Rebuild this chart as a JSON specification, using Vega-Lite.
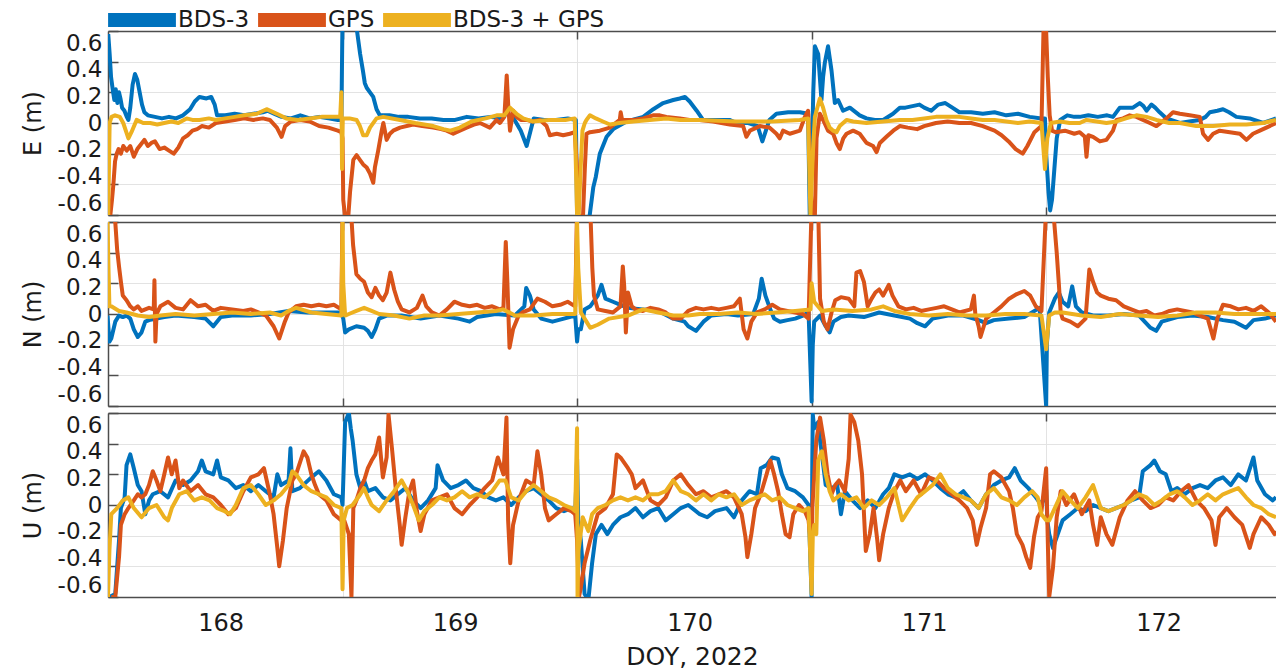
{
"$schema":"https://vega.github.io/schema/vega-lite/v6.json",
"padding":{"left":21,"top":-14,"right":0,"bottom":0},
"config":{"font":"DejaVu Sans","view":{"stroke":null},"concat":{"spacing":5},
 "axis":{"labelFont":"DejaVu Sans","titleFont":"DejaVu Sans","labelColor":"#1a1a1a","titleColor":"#1a1a1a","titleFontWeight":"normal","domainColor":"#4d4d4d","domainWidth":1.5,"gridColor":"#e3e3e3","gridWidth":1,"tickColor":"#4d4d4d","tickWidth":1.5},
 "legend":{"labelFont":"DejaVu Sans"}},
"resolve":{"scale":{"color":"shared"},"legend":{"color":"shared"}},
"datasets":{
"EB":[{"t":167.521,"v":0.58},{"t":167.527,"v":0.45},{"t":167.533,"v":0.3},{"t":167.54,"v":0.22},{"t":167.547,"v":0.15},{"t":167.553,"v":0.22},{"t":167.56,"v":0.13},{"t":167.567,"v":0.2},{"t":167.573,"v":0.16},{"t":167.58,"v":0.1},{"t":167.59,"v":0.08},{"t":167.6,"v":0.04},{"t":167.607,"v":0.02},{"t":167.615,"v":0.1},{"t":167.625,"v":0.25},{"t":167.635,"v":0.32},{"t":167.645,"v":0.28},{"t":167.655,"v":0.2},{"t":167.665,"v":0.12},{"t":167.675,"v":0.07},{"t":167.69,"v":0.05},{"t":167.72,"v":0.04},{"t":167.75,"v":0.03},{"t":167.78,"v":0.04},{"t":167.81,"v":0.03},{"t":167.84,"v":0.05},{"t":167.87,"v":0.09},{"t":167.89,"v":0.14},{"t":167.91,"v":0.17},{"t":167.94,"v":0.16},{"t":167.96,"v":0.17},{"t":167.975,"v":0.12},{"t":167.985,"v":0.05},{"t":168.02,"v":0.05},{"t":168.06,"v":0.06},{"t":168.1,"v":0.05},{"t":168.14,"v":0.06},{"t":168.18,"v":0.07},{"t":168.2,"v":0.08},{"t":168.23,"v":0.06},{"t":168.26,"v":0.04},{"t":168.3,"v":0.03},{"t":168.34,"v":0.05},{"t":168.38,"v":0.03},{"t":168.42,"v":0.04},{"t":168.46,"v":0.03},{"t":168.5,"v":0.02},{"t":168.515,"v":0.02},{"t":168.52,"v":0.7},{"t":168.54,"v":0.66},{"t":168.56,"v":0.7},{"t":168.58,"v":0.62},{"t":168.595,"v":0.45},{"t":168.607,"v":0.34},{"t":168.615,"v":0.26},{"t":168.623,"v":0.23},{"t":168.637,"v":0.2},{"t":168.651,"v":0.17},{"t":168.665,"v":0.09},{"t":168.679,"v":0.05},{"t":168.72,"v":0.05},{"t":168.76,"v":0.04},{"t":168.8,"v":0.04},{"t":168.85,"v":0.03},{"t":168.9,"v":0.03},{"t":168.95,"v":0.02},{"t":169.0,"v":0.02},{"t":169.05,"v":0.04},{"t":169.1,"v":0.03},{"t":169.15,"v":0.04},{"t":169.19,"v":0.03},{"t":169.22,"v":0.06},{"t":169.25,"v":0.03},{"t":169.28,"v":-0.05},{"t":169.305,"v":-0.15},{"t":169.32,"v":-0.06},{"t":169.335,"v":0.03},{"t":169.38,"v":0.02},{"t":169.43,"v":0.02},{"t":169.48,"v":0.03},{"t":169.515,"v":0.02},{"t":169.52,"v":-0.6},{"t":169.555,"v":-0.7},{"t":169.574,"v":-0.6},{"t":169.589,"v":-0.42},{"t":169.6,"v":-0.35},{"t":169.617,"v":-0.2},{"t":169.646,"v":-0.09},{"t":169.674,"v":-0.04},{"t":169.731,"v":0.01},{"t":169.802,"v":0.04},{"t":169.845,"v":0.09},{"t":169.887,"v":0.13},{"t":169.93,"v":0.15},{"t":169.958,"v":0.16},{"t":169.98,"v":0.17},{"t":170.0,"v":0.14},{"t":170.03,"v":0.08},{"t":170.057,"v":0.02},{"t":170.1,"v":0.02},{"t":170.17,"v":0.02},{"t":170.2,"v":0.0},{"t":170.25,"v":0.0},{"t":170.29,"v":-0.02},{"t":170.31,"v":-0.12},{"t":170.325,"v":-0.05},{"t":170.34,"v":0.02},{"t":170.37,"v":0.06},{"t":170.42,"v":0.07},{"t":170.47,"v":0.07},{"t":170.505,"v":0.06},{"t":170.512,"v":-0.6},{"t":170.52,"v":-0.3},{"t":170.527,"v":0.2},{"t":170.534,"v":0.5},{"t":170.548,"v":0.45},{"t":170.555,"v":0.3},{"t":170.562,"v":0.15},{"t":170.569,"v":0.3},{"t":170.576,"v":0.39},{"t":170.59,"v":0.5},{"t":170.605,"v":0.34},{"t":170.619,"v":0.13},{"t":170.633,"v":0.15},{"t":170.654,"v":0.08},{"t":170.683,"v":0.1},{"t":170.725,"v":0.05},{"t":170.754,"v":0.03},{"t":170.79,"v":0.02},{"t":170.825,"v":0.02},{"t":170.867,"v":0.06},{"t":170.896,"v":0.1},{"t":170.92,"v":0.1},{"t":170.95,"v":0.11},{"t":170.98,"v":0.12},{"t":171.0,"v":0.1},{"t":171.03,"v":0.08},{"t":171.06,"v":0.12},{"t":171.09,"v":0.13},{"t":171.12,"v":0.1},{"t":171.15,"v":0.07},{"t":171.2,"v":0.07},{"t":171.25,"v":0.06},{"t":171.3,"v":0.07},{"t":171.35,"v":0.05},{"t":171.4,"v":0.06},{"t":171.45,"v":0.04},{"t":171.5,"v":0.03},{"t":171.515,"v":0.03},{"t":171.52,"v":-0.2},{"t":171.53,"v":-0.45},{"t":171.537,"v":-0.57},{"t":171.545,"v":-0.5},{"t":171.555,"v":-0.3},{"t":171.565,"v":-0.1},{"t":171.58,"v":0.02},{"t":171.61,"v":0.05},{"t":171.64,"v":0.04},{"t":171.663,"v":0.04},{"t":171.7,"v":0.05},{"t":171.74,"v":0.04},{"t":171.78,"v":0.05},{"t":171.805,"v":0.04},{"t":171.834,"v":0.1},{"t":171.86,"v":0.1},{"t":171.89,"v":0.1},{"t":171.919,"v":0.13},{"t":171.935,"v":0.11},{"t":171.948,"v":0.08},{"t":171.969,"v":0.12},{"t":171.985,"v":0.1},{"t":172.004,"v":0.07},{"t":172.033,"v":0.03},{"t":172.09,"v":0.0},{"t":172.13,"v":0.01},{"t":172.175,"v":0.02},{"t":172.2,"v":0.04},{"t":172.218,"v":0.07},{"t":172.25,"v":0.08},{"t":172.274,"v":0.09},{"t":172.3,"v":0.07},{"t":172.331,"v":0.04},{"t":172.388,"v":0.03},{"t":172.445,"v":0.0},{"t":172.5,"v":0.03}],
"EG":[{"t":167.521,"v":-0.6},{"t":167.53,"v":-0.6},{"t":167.537,"v":-0.5},{"t":167.543,"v":-0.4},{"t":167.55,"v":-0.25},{"t":167.557,"v":-0.2},{"t":167.565,"v":-0.17},{"t":167.575,"v":-0.2},{"t":167.585,"v":-0.15},{"t":167.6,"v":-0.18},{"t":167.615,"v":-0.15},{"t":167.63,"v":-0.22},{"t":167.645,"v":-0.17},{"t":167.66,"v":-0.14},{"t":167.675,"v":-0.11},{"t":167.69,"v":-0.15},{"t":167.705,"v":-0.13},{"t":167.72,"v":-0.12},{"t":167.74,"v":-0.17},{"t":167.76,"v":-0.16},{"t":167.78,"v":-0.18},{"t":167.8,"v":-0.2},{"t":167.82,"v":-0.16},{"t":167.84,"v":-0.1},{"t":167.86,"v":-0.08},{"t":167.88,"v":-0.05},{"t":167.9,"v":-0.04},{"t":167.92,"v":-0.02},{"t":167.95,"v":-0.03},{"t":167.98,"v":0.0},{"t":168.02,"v":0.01},{"t":168.06,"v":0.02},{"t":168.1,"v":0.03},{"t":168.14,"v":0.02},{"t":168.18,"v":0.03},{"t":168.21,"v":0.02},{"t":168.24,"v":-0.03},{"t":168.26,"v":-0.09},{"t":168.275,"v":-0.02},{"t":168.3,"v":0.01},{"t":168.34,"v":0.02},{"t":168.38,"v":0.01},{"t":168.42,"v":-0.02},{"t":168.46,"v":-0.03},{"t":168.5,"v":-0.05},{"t":168.515,"v":-0.06},{"t":168.52,"v":-0.1},{"t":168.523,"v":-0.5},{"t":168.53,"v":-0.6},{"t":168.537,"v":-0.7},{"t":168.545,"v":-0.6},{"t":168.552,"v":-0.45},{"t":168.566,"v":-0.24},{"t":168.58,"v":-0.21},{"t":168.594,"v":-0.24},{"t":168.608,"v":-0.27},{"t":168.623,"v":-0.29},{"t":168.637,"v":-0.33},{"t":168.651,"v":-0.39},{"t":168.658,"v":-0.29},{"t":168.672,"v":-0.18},{"t":168.687,"v":-0.05},{"t":168.694,"v":0.0},{"t":168.708,"v":-0.11},{"t":168.722,"v":-0.07},{"t":168.736,"v":-0.05},{"t":168.765,"v":-0.03},{"t":168.821,"v":-0.01},{"t":168.86,"v":-0.02},{"t":168.907,"v":-0.03},{"t":168.94,"v":-0.04},{"t":168.964,"v":-0.05},{"t":168.992,"v":-0.07},{"t":169.02,"v":-0.05},{"t":169.049,"v":-0.03},{"t":169.08,"v":-0.01},{"t":169.106,"v":0.0},{"t":169.148,"v":-0.03},{"t":169.177,"v":0.02},{"t":169.191,"v":0.0},{"t":169.21,"v":0.04},{"t":169.22,"v":0.31},{"t":169.227,"v":0.1},{"t":169.234,"v":-0.05},{"t":169.248,"v":0.08},{"t":169.262,"v":0.04},{"t":169.28,"v":0.02},{"t":169.305,"v":0.02},{"t":169.33,"v":0.01},{"t":169.362,"v":0.02},{"t":169.39,"v":-0.02},{"t":169.404,"v":-0.08},{"t":169.433,"v":-0.07},{"t":169.461,"v":-0.08},{"t":169.489,"v":-0.07},{"t":169.51,"v":-0.06},{"t":169.52,"v":-0.3},{"t":169.525,"v":-0.6},{"t":169.545,"v":-0.62},{"t":169.553,"v":-0.3},{"t":169.56,"v":-0.07},{"t":169.575,"v":-0.06},{"t":169.617,"v":-0.05},{"t":169.66,"v":-0.03},{"t":169.702,"v":0.02},{"t":169.706,"v":0.07},{"t":169.712,"v":0.02},{"t":169.759,"v":0.02},{"t":169.802,"v":0.03},{"t":169.844,"v":0.05},{"t":169.873,"v":0.05},{"t":169.901,"v":0.04},{"t":169.958,"v":0.03},{"t":170.0,"v":0.02},{"t":170.043,"v":0.02},{"t":170.1,"v":0.01},{"t":170.171,"v":-0.01},{"t":170.228,"v":-0.02},{"t":170.242,"v":-0.09},{"t":170.257,"v":-0.05},{"t":170.299,"v":-0.02},{"t":170.34,"v":-0.03},{"t":170.37,"v":-0.07},{"t":170.384,"v":-0.1},{"t":170.398,"v":-0.05},{"t":170.427,"v":-0.07},{"t":170.47,"v":-0.05},{"t":170.491,"v":0.04},{"t":170.505,"v":0.08},{"t":170.512,"v":-0.2},{"t":170.52,"v":-0.6},{"t":170.534,"v":-0.6},{"t":170.541,"v":-0.1},{"t":170.555,"v":0.06},{"t":170.569,"v":0.02},{"t":170.59,"v":-0.05},{"t":170.612,"v":-0.07},{"t":170.626,"v":-0.13},{"t":170.64,"v":-0.17},{"t":170.655,"v":-0.1},{"t":170.669,"v":-0.07},{"t":170.697,"v":-0.05},{"t":170.725,"v":-0.07},{"t":170.754,"v":-0.13},{"t":170.782,"v":-0.15},{"t":170.797,"v":-0.19},{"t":170.811,"v":-0.13},{"t":170.839,"v":-0.09},{"t":170.868,"v":-0.05},{"t":170.896,"v":-0.02},{"t":170.93,"v":-0.03},{"t":170.97,"v":-0.04},{"t":171.0,"v":-0.02},{"t":171.05,"v":0.0},{"t":171.1,"v":0.01},{"t":171.15,"v":0.0},{"t":171.2,"v":0.0},{"t":171.25,"v":-0.02},{"t":171.3,"v":-0.05},{"t":171.33,"v":-0.08},{"t":171.36,"v":-0.12},{"t":171.39,"v":-0.17},{"t":171.42,"v":-0.2},{"t":171.44,"v":-0.15},{"t":171.47,"v":-0.06},{"t":171.5,"v":-0.02},{"t":171.51,"v":0.7},{"t":171.52,"v":0.6},{"t":171.527,"v":0.3},{"t":171.535,"v":0.05},{"t":171.545,"v":-0.05},{"t":171.56,"v":-0.06},{"t":171.6,"v":-0.05},{"t":171.64,"v":-0.07},{"t":171.663,"v":-0.06},{"t":171.685,"v":-0.09},{"t":171.692,"v":-0.22},{"t":171.7,"v":-0.08},{"t":171.72,"v":-0.09},{"t":171.749,"v":-0.12},{"t":171.777,"v":-0.11},{"t":171.805,"v":-0.05},{"t":171.82,"v":0.02},{"t":171.848,"v":0.03},{"t":171.876,"v":0.05},{"t":171.905,"v":0.04},{"t":171.933,"v":0.02},{"t":171.962,"v":0.0},{"t":171.99,"v":-0.02},{"t":172.033,"v":0.03},{"t":172.061,"v":0.07},{"t":172.09,"v":0.06},{"t":172.132,"v":0.05},{"t":172.175,"v":0.04},{"t":172.189,"v":-0.07},{"t":172.21,"v":-0.11},{"t":172.232,"v":-0.07},{"t":172.26,"v":-0.05},{"t":172.303,"v":-0.06},{"t":172.346,"v":-0.07},{"t":172.374,"v":-0.11},{"t":172.402,"v":-0.07},{"t":172.431,"v":-0.05},{"t":172.459,"v":-0.03},{"t":172.5,"v":0.0}],
"EC":[{"t":167.521,"v":-0.6},{"t":167.524,"v":-0.3},{"t":167.527,"v":0.0},{"t":167.535,"v":0.04},{"t":167.55,"v":0.05},{"t":167.57,"v":0.04},{"t":167.585,"v":0.0},{"t":167.598,"v":-0.06},{"t":167.607,"v":-0.1},{"t":167.62,"v":-0.06},{"t":167.642,"v":0.02},{"t":167.67,"v":0.0},{"t":167.7,"v":0.0},{"t":167.73,"v":-0.01},{"t":167.76,"v":0.0},{"t":167.79,"v":0.01},{"t":167.82,"v":0.0},{"t":167.855,"v":0.03},{"t":167.88,"v":0.02},{"t":167.91,"v":0.02},{"t":167.95,"v":0.03},{"t":167.98,"v":0.02},{"t":168.02,"v":0.03},{"t":168.06,"v":0.04},{"t":168.1,"v":0.05},{"t":168.154,"v":0.06},{"t":168.196,"v":0.09},{"t":168.24,"v":0.06},{"t":168.28,"v":0.03},{"t":168.33,"v":0.02},{"t":168.38,"v":0.03},{"t":168.43,"v":0.04},{"t":168.48,"v":0.04},{"t":168.51,"v":0.04},{"t":168.515,"v":0.2},{"t":168.518,"v":-0.3},{"t":168.521,"v":0.03},{"t":168.55,"v":0.03},{"t":168.58,"v":0.02},{"t":168.594,"v":-0.02},{"t":168.608,"v":-0.08},{"t":168.623,"v":-0.08},{"t":168.637,"v":-0.03},{"t":168.665,"v":0.03},{"t":168.694,"v":0.04},{"t":168.765,"v":0.02},{"t":168.83,"v":0.0},{"t":168.907,"v":-0.02},{"t":168.95,"v":-0.04},{"t":168.98,"v":-0.05},{"t":169.02,"v":-0.03},{"t":169.07,"v":0.01},{"t":169.13,"v":0.03},{"t":169.177,"v":0.05},{"t":169.21,"v":0.05},{"t":169.234,"v":0.1},{"t":169.262,"v":0.06},{"t":169.29,"v":0.03},{"t":169.33,"v":0.01},{"t":169.4,"v":0.02},{"t":169.47,"v":0.02},{"t":169.51,"v":0.03},{"t":169.52,"v":-0.6},{"t":169.527,"v":-0.6},{"t":169.535,"v":-0.3},{"t":169.543,"v":-0.05},{"t":169.553,"v":0.0},{"t":169.56,"v":0.02},{"t":169.575,"v":0.05},{"t":169.6,"v":0.03},{"t":169.63,"v":0.01},{"t":169.66,"v":-0.01},{"t":169.7,"v":0.0},{"t":169.76,"v":0.01},{"t":169.83,"v":0.02},{"t":169.9,"v":0.03},{"t":169.96,"v":0.02},{"t":170.04,"v":0.02},{"t":170.2,"v":0.01},{"t":170.35,"v":0.01},{"t":170.47,"v":0.02},{"t":170.505,"v":0.03},{"t":170.515,"v":-0.6},{"t":170.525,"v":-0.2},{"t":170.534,"v":0.04},{"t":170.541,"v":0.08},{"t":170.555,"v":0.16},{"t":170.569,"v":0.1},{"t":170.583,"v":0.02},{"t":170.597,"v":-0.03},{"t":170.612,"v":-0.05},{"t":170.626,"v":-0.06},{"t":170.64,"v":-0.02},{"t":170.669,"v":0.02},{"t":170.697,"v":0.01},{"t":170.754,"v":0.0},{"t":170.825,"v":0.01},{"t":170.896,"v":0.02},{"t":170.95,"v":0.02},{"t":171.0,"v":0.03},{"t":171.05,"v":0.04},{"t":171.1,"v":0.04},{"t":171.15,"v":0.04},{"t":171.2,"v":0.03},{"t":171.25,"v":0.02},{"t":171.3,"v":0.02},{"t":171.35,"v":0.01},{"t":171.4,"v":0.0},{"t":171.45,"v":0.01},{"t":171.5,"v":0.0},{"t":171.515,"v":-0.3},{"t":171.525,"v":-0.1},{"t":171.54,"v":0.0},{"t":171.58,"v":0.01},{"t":171.62,"v":0.0},{"t":171.663,"v":0.0},{"t":171.692,"v":0.02},{"t":171.735,"v":0.01},{"t":171.777,"v":0.0},{"t":171.82,"v":0.01},{"t":171.86,"v":0.03},{"t":171.905,"v":0.05},{"t":171.948,"v":0.04},{"t":171.99,"v":0.02},{"t":172.045,"v":0.0},{"t":172.09,"v":0.0},{"t":172.16,"v":-0.02},{"t":172.232,"v":-0.02},{"t":172.303,"v":-0.01},{"t":172.374,"v":-0.01},{"t":172.445,"v":0.0},{"t":172.5,"v":0.02}],
"NB":[{"t":167.518,"v":-0.01},{"t":167.526,"v":-0.18},{"t":167.534,"v":-0.16},{"t":167.551,"v":-0.05},{"t":167.567,"v":-0.01},{"t":167.583,"v":-0.02},{"t":167.599,"v":-0.01},{"t":167.615,"v":-0.03},{"t":167.63,"v":-0.1},{"t":167.647,"v":-0.15},{"t":167.663,"v":-0.12},{"t":167.679,"v":-0.05},{"t":167.695,"v":-0.04},{"t":167.727,"v":-0.03},{"t":167.76,"v":-0.02},{"t":167.808,"v":-0.01},{"t":167.888,"v":-0.02},{"t":167.936,"v":-0.03},{"t":167.969,"v":-0.08},{"t":168.001,"v":-0.02},{"t":168.049,"v":-0.01},{"t":168.129,"v":-0.01},{"t":168.21,"v":0.0},{"t":168.29,"v":0.02},{"t":168.37,"v":0.01},{"t":168.451,"v":0.01},{"t":168.515,"v":0.01},{"t":168.523,"v":-0.03},{"t":168.531,"v":-0.12},{"t":168.547,"v":-0.1},{"t":168.579,"v":-0.08},{"t":168.612,"v":-0.09},{"t":168.628,"v":-0.11},{"t":168.644,"v":-0.15},{"t":168.66,"v":-0.1},{"t":168.676,"v":-0.03},{"t":168.708,"v":-0.01},{"t":168.772,"v":-0.01},{"t":168.853,"v":-0.03},{"t":168.933,"v":-0.01},{"t":169.014,"v":-0.03},{"t":169.062,"v":-0.05},{"t":169.094,"v":-0.02},{"t":169.174,"v":0.0},{"t":169.255,"v":-0.01},{"t":169.295,"v":0.05},{"t":169.303,"v":0.17},{"t":169.319,"v":0.12},{"t":169.335,"v":0.03},{"t":169.367,"v":-0.03},{"t":169.415,"v":-0.05},{"t":169.464,"v":-0.03},{"t":169.512,"v":-0.01},{"t":169.52,"v":-0.18},{"t":169.525,"v":-0.1},{"t":169.536,"v":-0.1},{"t":169.552,"v":0.03},{"t":169.576,"v":0.05},{"t":169.608,"v":0.12},{"t":169.624,"v":0.19},{"t":169.641,"v":0.1},{"t":169.673,"v":0.08},{"t":169.705,"v":0.06},{"t":169.737,"v":0.04},{"t":169.801,"v":0.03},{"t":169.866,"v":0.02},{"t":169.93,"v":-0.03},{"t":169.978,"v":-0.05},{"t":169.994,"v":-0.08},{"t":170.027,"v":-0.11},{"t":170.059,"v":-0.05},{"t":170.092,"v":-0.01},{"t":170.157,"v":0.0},{"t":170.206,"v":-0.01},{"t":170.271,"v":0.0},{"t":170.295,"v":0.1},{"t":170.307,"v":0.23},{"t":170.323,"v":0.12},{"t":170.344,"v":0.03},{"t":170.36,"v":-0.03},{"t":170.385,"v":-0.05},{"t":170.417,"v":-0.04},{"t":170.45,"v":-0.03},{"t":170.483,"v":-0.01},{"t":170.507,"v":0.01},{"t":170.52,"v":-0.57},{"t":170.525,"v":-0.2},{"t":170.531,"v":-0.05},{"t":170.556,"v":-0.01},{"t":170.58,"v":-0.08},{"t":170.597,"v":-0.12},{"t":170.613,"v":-0.05},{"t":170.645,"v":-0.02},{"t":170.678,"v":-0.01},{"t":170.743,"v":-0.02},{"t":170.808,"v":0.01},{"t":170.873,"v":-0.01},{"t":170.939,"v":-0.03},{"t":170.971,"v":-0.06},{"t":171.004,"v":-0.08},{"t":171.036,"v":-0.03},{"t":171.101,"v":-0.01},{"t":171.167,"v":-0.01},{"t":171.232,"v":-0.04},{"t":171.264,"v":-0.06},{"t":171.297,"v":-0.04},{"t":171.362,"v":-0.03},{"t":171.427,"v":-0.02},{"t":171.492,"v":0.04},{"t":171.52,"v":-0.6},{"t":171.523,"v":-0.2},{"t":171.533,"v":0.01},{"t":171.557,"v":0.1},{"t":171.574,"v":0.14},{"t":171.59,"v":0.08},{"t":171.614,"v":0.05},{"t":171.631,"v":0.18},{"t":171.647,"v":0.05},{"t":171.672,"v":0.01},{"t":171.72,"v":-0.01},{"t":171.785,"v":-0.01},{"t":171.851,"v":0.0},{"t":171.916,"v":-0.01},{"t":171.965,"v":-0.09},{"t":171.989,"v":-0.11},{"t":172.013,"v":-0.05},{"t":172.079,"v":-0.02},{"t":172.144,"v":-0.01},{"t":172.209,"v":-0.02},{"t":172.274,"v":-0.04},{"t":172.323,"v":-0.05},{"t":172.372,"v":-0.09},{"t":172.404,"v":-0.04},{"t":172.453,"v":-0.03},{"t":172.5,"v":-0.01}],
"NG":[{"t":167.52,"v":0.7},{"t":167.526,"v":0.65},{"t":167.551,"v":0.6},{"t":167.559,"v":0.42},{"t":167.567,"v":0.31},{"t":167.575,"v":0.21},{"t":167.583,"v":0.12},{"t":167.599,"v":0.09},{"t":167.615,"v":0.05},{"t":167.63,"v":0.03},{"t":167.647,"v":0.05},{"t":167.663,"v":0.02},{"t":167.695,"v":0.04},{"t":167.715,"v":0.03},{"t":167.718,"v":0.22},{"t":167.722,"v":-0.18},{"t":167.727,"v":0.0},{"t":167.743,"v":0.05},{"t":167.776,"v":0.08},{"t":167.808,"v":0.04},{"t":167.84,"v":0.03},{"t":167.872,"v":0.09},{"t":167.904,"v":0.05},{"t":167.936,"v":0.06},{"t":167.969,"v":0.02},{"t":168.001,"v":0.04},{"t":168.049,"v":0.03},{"t":168.097,"v":0.02},{"t":168.129,"v":0.03},{"t":168.161,"v":0.01},{"t":168.194,"v":-0.01},{"t":168.226,"v":-0.08},{"t":168.25,"v":-0.16},{"t":168.274,"v":-0.05},{"t":168.29,"v":0.01},{"t":168.322,"v":0.05},{"t":168.354,"v":0.06},{"t":168.387,"v":0.05},{"t":168.419,"v":0.06},{"t":168.451,"v":0.05},{"t":168.483,"v":0.06},{"t":168.515,"v":0.03},{"t":168.52,"v":0.7},{"t":168.555,"v":0.7},{"t":168.565,"v":0.45},{"t":168.579,"v":0.26},{"t":168.596,"v":0.23},{"t":168.612,"v":0.21},{"t":168.628,"v":0.14},{"t":168.644,"v":0.11},{"t":168.66,"v":0.17},{"t":168.676,"v":0.12},{"t":168.692,"v":0.09},{"t":168.708,"v":0.14},{"t":168.724,"v":0.27},{"t":168.74,"v":0.16},{"t":168.756,"v":0.08},{"t":168.772,"v":0.03},{"t":168.805,"v":0.01},{"t":168.837,"v":0.04},{"t":168.861,"v":0.12},{"t":168.877,"v":0.05},{"t":168.901,"v":0.01},{"t":168.933,"v":-0.01},{"t":168.965,"v":0.03},{"t":168.997,"v":0.08},{"t":169.03,"v":0.06},{"t":169.062,"v":0.05},{"t":169.094,"v":0.06},{"t":169.126,"v":0.04},{"t":169.158,"v":0.05},{"t":169.19,"v":0.03},{"t":169.206,"v":0.04},{"t":169.216,"v":0.47},{"t":169.223,"v":0.2},{"t":169.232,"v":-0.22},{"t":169.247,"v":-0.1},{"t":169.271,"v":-0.01},{"t":169.287,"v":0.01},{"t":169.319,"v":0.03},{"t":169.351,"v":0.1},{"t":169.383,"v":0.08},{"t":169.415,"v":0.05},{"t":169.448,"v":0.06},{"t":169.48,"v":0.08},{"t":169.512,"v":0.05},{"t":169.52,"v":0.7},{"t":169.576,"v":0.7},{"t":169.585,"v":0.3},{"t":169.592,"v":0.12},{"t":169.608,"v":0.03},{"t":169.641,"v":0.02},{"t":169.673,"v":0.01},{"t":169.705,"v":0.05},{"t":169.715,"v":0.31},{"t":169.721,"v":0.18},{"t":169.728,"v":-0.12},{"t":169.737,"v":0.14},{"t":169.753,"v":0.05},{"t":169.769,"v":0.03},{"t":169.801,"v":0.02},{"t":169.833,"v":0.04},{"t":169.866,"v":0.03},{"t":169.898,"v":0.01},{"t":169.93,"v":-0.03},{"t":169.962,"v":-0.03},{"t":169.994,"v":0.02},{"t":170.027,"v":0.04},{"t":170.059,"v":0.03},{"t":170.092,"v":0.04},{"t":170.124,"v":0.03},{"t":170.157,"v":0.04},{"t":170.189,"v":0.05},{"t":170.214,"v":0.1},{"t":170.23,"v":-0.1},{"t":170.246,"v":-0.16},{"t":170.263,"v":-0.05},{"t":170.287,"v":0.01},{"t":170.32,"v":0.03},{"t":170.352,"v":0.06},{"t":170.385,"v":0.03},{"t":170.417,"v":0.02},{"t":170.45,"v":0.01},{"t":170.483,"v":0.0},{"t":170.507,"v":-0.03},{"t":170.52,"v":0.7},{"t":170.548,"v":0.7},{"t":170.556,"v":0.1},{"t":170.572,"v":-0.05},{"t":170.588,"v":-0.1},{"t":170.605,"v":0.01},{"t":170.621,"v":0.09},{"t":170.645,"v":0.11},{"t":170.678,"v":0.1},{"t":170.702,"v":0.05},{"t":170.711,"v":0.27},{"t":170.727,"v":0.28},{"t":170.743,"v":0.21},{"t":170.759,"v":0.05},{"t":170.776,"v":0.1},{"t":170.792,"v":0.14},{"t":170.808,"v":0.16},{"t":170.825,"v":0.12},{"t":170.849,"v":0.19},{"t":170.865,"v":0.12},{"t":170.89,"v":0.05},{"t":170.922,"v":0.03},{"t":170.955,"v":0.04},{"t":170.987,"v":0.02},{"t":171.02,"v":0.03},{"t":171.053,"v":0.04},{"t":171.085,"v":0.05},{"t":171.118,"v":0.03},{"t":171.15,"v":0.01},{"t":171.199,"v":0.03},{"t":171.212,"v":0.12},{"t":171.218,"v":0.0},{"t":171.232,"v":-0.08},{"t":171.24,"v":-0.15},{"t":171.264,"v":-0.03},{"t":171.297,"v":0.01},{"t":171.329,"v":0.05},{"t":171.362,"v":0.1},{"t":171.395,"v":0.13},{"t":171.427,"v":0.15},{"t":171.452,"v":0.12},{"t":171.476,"v":0.05},{"t":171.5,"v":0.02},{"t":171.52,"v":0.7},{"t":171.549,"v":0.7},{"t":171.565,"v":0.4},{"t":171.574,"v":0.2},{"t":171.582,"v":0.01},{"t":171.59,"v":-0.03},{"t":171.623,"v":-0.05},{"t":171.655,"v":-0.08},{"t":171.688,"v":-0.03},{"t":171.704,"v":0.29},{"t":171.72,"v":0.21},{"t":171.737,"v":0.14},{"t":171.753,"v":0.12},{"t":171.785,"v":0.1},{"t":171.818,"v":0.09},{"t":171.851,"v":0.05},{"t":171.883,"v":0.03},{"t":171.916,"v":0.01},{"t":171.948,"v":0.02},{"t":171.981,"v":-0.01},{"t":172.013,"v":0.0},{"t":172.046,"v":0.02},{"t":172.079,"v":0.03},{"t":172.111,"v":0.02},{"t":172.144,"v":0.01},{"t":172.176,"v":-0.01},{"t":172.209,"v":-0.03},{"t":172.233,"v":-0.16},{"t":172.25,"v":-0.03},{"t":172.274,"v":0.06},{"t":172.307,"v":0.05},{"t":172.339,"v":0.03},{"t":172.372,"v":0.04},{"t":172.404,"v":0.02},{"t":172.437,"v":0.05},{"t":172.469,"v":0.01},{"t":172.5,"v":-0.05}],
"NC":[{"t":167.518,"v":0.6},{"t":167.522,"v":0.3},{"t":167.526,"v":0.05},{"t":167.534,"v":0.05},{"t":167.567,"v":0.02},{"t":167.599,"v":0.01},{"t":167.647,"v":-0.01},{"t":167.695,"v":-0.02},{"t":167.743,"v":-0.01},{"t":167.808,"v":0.0},{"t":167.888,"v":-0.01},{"t":167.969,"v":0.0},{"t":168.049,"v":0.01},{"t":168.129,"v":0.0},{"t":168.21,"v":0.01},{"t":168.258,"v":-0.01},{"t":168.29,"v":0.02},{"t":168.322,"v":0.04},{"t":168.387,"v":0.01},{"t":168.451,"v":0.0},{"t":168.515,"v":-0.01},{"t":168.52,"v":0.6},{"t":168.523,"v":0.2},{"t":168.531,"v":-0.01},{"t":168.547,"v":0.0},{"t":168.579,"v":0.02},{"t":168.612,"v":0.04},{"t":168.644,"v":0.02},{"t":168.676,"v":0.0},{"t":168.74,"v":-0.01},{"t":168.805,"v":-0.03},{"t":168.869,"v":-0.01},{"t":168.933,"v":-0.01},{"t":169.014,"v":0.0},{"t":169.094,"v":0.01},{"t":169.174,"v":0.02},{"t":169.206,"v":0.03},{"t":169.255,"v":-0.01},{"t":169.335,"v":-0.01},{"t":169.415,"v":0.0},{"t":169.512,"v":0.0},{"t":169.52,"v":0.6},{"t":169.525,"v":0.3},{"t":169.536,"v":0.01},{"t":169.56,"v":-0.05},{"t":169.576,"v":-0.09},{"t":169.608,"v":-0.07},{"t":169.657,"v":-0.03},{"t":169.737,"v":-0.01},{"t":169.801,"v":0.03},{"t":169.866,"v":0.01},{"t":169.93,"v":-0.01},{"t":169.994,"v":-0.01},{"t":170.043,"v":0.0},{"t":170.124,"v":0.0},{"t":170.206,"v":0.01},{"t":170.287,"v":0.0},{"t":170.369,"v":0.01},{"t":170.45,"v":0.02},{"t":170.515,"v":0.03},{"t":170.52,"v":0.2},{"t":170.531,"v":0.08},{"t":170.564,"v":0.02},{"t":170.613,"v":0.03},{"t":170.694,"v":0.02},{"t":170.776,"v":0.03},{"t":170.825,"v":0.05},{"t":170.873,"v":0.02},{"t":170.939,"v":0.0},{"t":171.02,"v":-0.01},{"t":171.101,"v":0.0},{"t":171.183,"v":-0.01},{"t":171.264,"v":-0.01},{"t":171.346,"v":0.0},{"t":171.427,"v":0.0},{"t":171.5,"v":-0.01},{"t":171.52,"v":-0.23},{"t":171.533,"v":-0.01},{"t":171.557,"v":0.01},{"t":171.59,"v":0.01},{"t":171.672,"v":-0.01},{"t":171.753,"v":-0.02},{"t":171.834,"v":0.0},{"t":171.916,"v":-0.01},{"t":171.997,"v":-0.02},{"t":172.079,"v":-0.01},{"t":172.16,"v":0.01},{"t":172.242,"v":0.01},{"t":172.323,"v":0.0},{"t":172.404,"v":0.0},{"t":172.5,"v":0.0}],
"UB":[{"t":167.526,"v":-0.6},{"t":167.551,"v":-0.58},{"t":167.567,"v":-0.23},{"t":167.575,"v":-0.02},{"t":167.591,"v":0.05},{"t":167.599,"v":0.26},{"t":167.615,"v":0.33},{"t":167.63,"v":0.24},{"t":167.647,"v":0.13},{"t":167.663,"v":0.09},{"t":167.679,"v":-0.06},{"t":167.695,"v":0.03},{"t":167.711,"v":0.07},{"t":167.743,"v":0.09},{"t":167.776,"v":0.05},{"t":167.808,"v":0.16},{"t":167.84,"v":0.13},{"t":167.872,"v":0.16},{"t":167.904,"v":0.22},{"t":167.92,"v":0.29},{"t":167.936,"v":0.22},{"t":167.969,"v":0.2},{"t":167.985,"v":0.29},{"t":168.001,"v":0.18},{"t":168.033,"v":0.16},{"t":168.065,"v":0.11},{"t":168.097,"v":0.13},{"t":168.129,"v":0.09},{"t":168.161,"v":0.13},{"t":168.193,"v":0.09},{"t":168.226,"v":0.05},{"t":168.242,"v":0.2},{"t":168.258,"v":0.13},{"t":168.29,"v":0.16},{"t":168.298,"v":0.37},{"t":168.306,"v":0.09},{"t":168.338,"v":0.11},{"t":168.387,"v":0.18},{"t":168.419,"v":0.22},{"t":168.451,"v":0.16},{"t":168.483,"v":0.07},{"t":168.515,"v":0.05},{"t":168.52,"v":0.0},{"t":168.531,"v":0.54},{"t":168.547,"v":0.6},{"t":168.555,"v":0.5},{"t":168.563,"v":0.42},{"t":168.579,"v":0.2},{"t":168.596,"v":0.11},{"t":168.612,"v":0.16},{"t":168.628,"v":0.09},{"t":168.66,"v":0.11},{"t":168.692,"v":0.05},{"t":168.724,"v":0.03},{"t":168.756,"v":0.07},{"t":168.788,"v":0.11},{"t":168.821,"v":0.03},{"t":168.853,"v":-0.02},{"t":168.885,"v":0.03},{"t":168.917,"v":0.11},{"t":168.925,"v":0.26},{"t":168.949,"v":0.16},{"t":168.981,"v":0.11},{"t":169.014,"v":0.13},{"t":169.046,"v":0.16},{"t":169.078,"v":0.11},{"t":169.11,"v":0.09},{"t":169.142,"v":0.05},{"t":169.174,"v":0.03},{"t":169.206,"v":0.05},{"t":169.239,"v":0.0},{"t":169.271,"v":0.05},{"t":169.303,"v":0.09},{"t":169.335,"v":0.11},{"t":169.367,"v":0.07},{"t":169.399,"v":0.03},{"t":169.431,"v":-0.02},{"t":169.464,"v":-0.04},{"t":169.496,"v":-0.02},{"t":169.512,"v":-0.06},{"t":169.52,"v":0.3},{"t":169.525,"v":-0.1},{"t":169.536,"v":-0.23},{"t":169.552,"v":-0.58},{"t":169.568,"v":-0.62},{"t":169.584,"v":-0.38},{"t":169.6,"v":-0.19},{"t":169.624,"v":-0.13},{"t":169.649,"v":-0.19},{"t":169.673,"v":-0.13},{"t":169.705,"v":-0.08},{"t":169.737,"v":-0.06},{"t":169.769,"v":-0.02},{"t":169.801,"v":-0.08},{"t":169.833,"v":-0.04},{"t":169.866,"v":-0.02},{"t":169.898,"v":-0.1},{"t":169.93,"v":-0.06},{"t":169.962,"v":-0.02},{"t":169.994,"v":0.0},{"t":170.043,"v":-0.06},{"t":170.075,"v":-0.08},{"t":170.108,"v":-0.04},{"t":170.157,"v":-0.02},{"t":170.189,"v":-0.08},{"t":170.222,"v":0.03},{"t":170.255,"v":0.09},{"t":170.287,"v":0.07},{"t":170.303,"v":0.24},{"t":170.328,"v":0.26},{"t":170.352,"v":0.31},{"t":170.377,"v":0.3},{"t":170.393,"v":0.2},{"t":170.417,"v":0.11},{"t":170.45,"v":0.09},{"t":170.483,"v":0.05},{"t":170.507,"v":0.0},{"t":170.52,"v":-0.6},{"t":170.523,"v":0.3},{"t":170.525,"v":0.59},{"t":170.531,"v":0.5},{"t":170.548,"v":0.54},{"t":170.556,"v":0.42},{"t":170.564,"v":0.33},{"t":170.58,"v":0.13},{"t":170.605,"v":0.11},{"t":170.629,"v":0.13},{"t":170.645,"v":-0.06},{"t":170.662,"v":0.09},{"t":170.694,"v":0.03},{"t":170.727,"v":-0.02},{"t":170.759,"v":0.03},{"t":170.792,"v":-0.02},{"t":170.825,"v":0.07},{"t":170.849,"v":0.11},{"t":170.873,"v":0.2},{"t":170.906,"v":0.18},{"t":170.939,"v":0.2},{"t":170.971,"v":0.17},{"t":171.004,"v":0.2},{"t":171.036,"v":0.16},{"t":171.069,"v":0.11},{"t":171.101,"v":0.07},{"t":171.134,"v":0.05},{"t":171.167,"v":0.09},{"t":171.199,"v":0.03},{"t":171.232,"v":-0.02},{"t":171.264,"v":0.07},{"t":171.297,"v":0.13},{"t":171.329,"v":0.16},{"t":171.362,"v":0.18},{"t":171.386,"v":0.24},{"t":171.411,"v":0.16},{"t":171.444,"v":0.11},{"t":171.476,"v":0.05},{"t":171.5,"v":0.0},{"t":171.52,"v":0.1},{"t":171.525,"v":-0.1},{"t":171.533,"v":-0.19},{"t":171.549,"v":-0.28},{"t":171.574,"v":-0.17},{"t":171.59,"v":-0.1},{"t":171.623,"v":-0.06},{"t":171.655,"v":-0.02},{"t":171.688,"v":-0.04},{"t":171.72,"v":0.0},{"t":171.753,"v":-0.02},{"t":171.785,"v":-0.04},{"t":171.818,"v":-0.02},{"t":171.851,"v":0.0},{"t":171.883,"v":0.03},{"t":171.916,"v":0.05},{"t":171.932,"v":0.22},{"t":171.965,"v":0.26},{"t":171.981,"v":0.29},{"t":172.005,"v":0.22},{"t":172.03,"v":0.2},{"t":172.054,"v":0.09},{"t":172.079,"v":0.11},{"t":172.111,"v":0.07},{"t":172.144,"v":0.11},{"t":172.176,"v":0.13},{"t":172.209,"v":0.11},{"t":172.242,"v":0.16},{"t":172.274,"v":0.18},{"t":172.307,"v":0.13},{"t":172.339,"v":0.2},{"t":172.372,"v":0.16},{"t":172.404,"v":0.31},{"t":172.42,"v":0.16},{"t":172.453,"v":0.07},{"t":172.486,"v":0.03},{"t":172.5,"v":0.05}],
"UG":[{"t":167.534,"v":-0.6},{"t":167.551,"v":-0.6},{"t":167.567,"v":-0.34},{"t":167.575,"v":-0.13},{"t":167.591,"v":-0.06},{"t":167.607,"v":-0.02},{"t":167.63,"v":0.03},{"t":167.647,"v":0.07},{"t":167.663,"v":0.05},{"t":167.679,"v":0.07},{"t":167.695,"v":0.13},{"t":167.711,"v":0.22},{"t":167.727,"v":0.16},{"t":167.743,"v":0.09},{"t":167.76,"v":0.2},{"t":167.776,"v":0.31},{"t":167.792,"v":0.2},{"t":167.808,"v":0.29},{"t":167.824,"v":0.11},{"t":167.84,"v":0.16},{"t":167.872,"v":0.09},{"t":167.904,"v":0.13},{"t":167.936,"v":0.07},{"t":167.969,"v":0.05},{"t":168.001,"v":0.0},{"t":168.033,"v":-0.06},{"t":168.065,"v":-0.02},{"t":168.097,"v":0.09},{"t":168.129,"v":0.18},{"t":168.161,"v":0.2},{"t":168.185,"v":0.24},{"t":168.21,"v":0.07},{"t":168.226,"v":-0.06},{"t":168.242,"v":-0.28},{"t":168.25,"v":-0.4},{"t":168.266,"v":-0.23},{"t":168.282,"v":-0.02},{"t":168.306,"v":0.16},{"t":168.322,"v":0.2},{"t":168.354,"v":0.35},{"t":168.37,"v":0.31},{"t":168.387,"v":0.2},{"t":168.403,"v":0.13},{"t":168.419,"v":0.07},{"t":168.451,"v":0.03},{"t":168.483,"v":-0.06},{"t":168.515,"v":-0.1},{"t":168.523,"v":-0.08},{"t":168.547,"v":-0.19},{"t":168.558,"v":-0.6},{"t":168.566,"v":-0.02},{"t":168.579,"v":0.03},{"t":168.596,"v":0.11},{"t":168.612,"v":0.16},{"t":168.628,"v":0.24},{"t":168.644,"v":0.29},{"t":168.66,"v":0.33},{"t":168.676,"v":0.44},{"t":168.692,"v":0.18},{"t":168.708,"v":0.31},{"t":168.716,"v":0.59},{"t":168.732,"v":0.35},{"t":168.748,"v":0.09},{"t":168.764,"v":-0.13},{"t":168.772,"v":-0.26},{"t":168.788,"v":-0.08},{"t":168.805,"v":0.09},{"t":168.821,"v":0.16},{"t":168.837,"v":-0.04},{"t":168.853,"v":-0.17},{"t":168.869,"v":-0.06},{"t":168.901,"v":0.03},{"t":168.933,"v":0.05},{"t":168.965,"v":0.07},{"t":168.997,"v":-0.02},{"t":169.03,"v":-0.06},{"t":169.062,"v":0.0},{"t":169.094,"v":0.05},{"t":169.126,"v":0.11},{"t":169.158,"v":0.16},{"t":169.182,"v":0.31},{"t":169.206,"v":0.2},{"t":169.219,"v":0.57},{"t":169.226,"v":-0.1},{"t":169.235,"v":-0.38},{"t":169.247,"v":-0.13},{"t":169.271,"v":0.03},{"t":169.303,"v":0.16},{"t":169.335,"v":0.13},{"t":169.351,"v":0.35},{"t":169.367,"v":0.2},{"t":169.383,"v":-0.02},{"t":169.399,"v":-0.1},{"t":169.431,"v":-0.06},{"t":169.464,"v":-0.02},{"t":169.496,"v":-0.04},{"t":169.512,"v":-0.06},{"t":169.52,"v":-0.23},{"t":169.528,"v":-0.6},{"t":169.536,"v":-0.54},{"t":169.552,"v":-0.38},{"t":169.576,"v":-0.23},{"t":169.608,"v":-0.06},{"t":169.641,"v":-0.02},{"t":169.673,"v":0.07},{"t":169.689,"v":0.33},{"t":169.705,"v":0.31},{"t":169.737,"v":0.24},{"t":169.753,"v":0.2},{"t":169.769,"v":0.11},{"t":169.801,"v":0.16},{"t":169.833,"v":0.03},{"t":169.866,"v":0.0},{"t":169.898,"v":0.05},{"t":169.93,"v":0.16},{"t":169.962,"v":0.2},{"t":169.994,"v":0.13},{"t":170.027,"v":0.07},{"t":170.059,"v":0.09},{"t":170.092,"v":0.05},{"t":170.124,"v":0.07},{"t":170.157,"v":0.09},{"t":170.189,"v":0.05},{"t":170.222,"v":-0.06},{"t":170.238,"v":-0.21},{"t":170.246,"v":-0.34},{"t":170.263,"v":-0.19},{"t":170.279,"v":-0.02},{"t":170.303,"v":0.07},{"t":170.328,"v":0.2},{"t":170.344,"v":0.29},{"t":170.36,"v":0.2},{"t":170.377,"v":0.09},{"t":170.393,"v":-0.06},{"t":170.409,"v":-0.19},{"t":170.426,"v":-0.21},{"t":170.442,"v":-0.06},{"t":170.466,"v":0.0},{"t":170.491,"v":-0.04},{"t":170.507,"v":-0.1},{"t":170.52,"v":-0.3},{"t":170.523,"v":-0.02},{"t":170.54,"v":0.42},{"t":170.556,"v":0.57},{"t":170.572,"v":0.42},{"t":170.588,"v":0.2},{"t":170.605,"v":0.07},{"t":170.621,"v":0.13},{"t":170.637,"v":0.16},{"t":170.662,"v":0.09},{"t":170.678,"v":0.3},{"t":170.686,"v":0.59},{"t":170.702,"v":0.54},{"t":170.719,"v":0.42},{"t":170.735,"v":0.2},{"t":170.751,"v":-0.3},{"t":170.768,"v":-0.19},{"t":170.784,"v":-0.02},{"t":170.8,"v":-0.23},{"t":170.808,"v":-0.36},{"t":170.825,"v":-0.19},{"t":170.849,"v":-0.02},{"t":170.873,"v":0.09},{"t":170.898,"v":0.16},{"t":170.922,"v":0.09},{"t":170.955,"v":0.16},{"t":170.987,"v":0.07},{"t":171.02,"v":0.18},{"t":171.053,"v":0.16},{"t":171.085,"v":0.11},{"t":171.118,"v":0.07},{"t":171.15,"v":0.03},{"t":171.183,"v":-0.02},{"t":171.207,"v":-0.1},{"t":171.224,"v":-0.26},{"t":171.24,"v":-0.15},{"t":171.264,"v":-0.02},{"t":171.281,"v":0.2},{"t":171.297,"v":0.22},{"t":171.329,"v":0.18},{"t":171.362,"v":0.09},{"t":171.378,"v":-0.02},{"t":171.395,"v":-0.19},{"t":171.419,"v":-0.26},{"t":171.435,"v":-0.34},{"t":171.452,"v":-0.41},{"t":171.468,"v":-0.21},{"t":171.484,"v":-0.08},{"t":171.5,"v":-0.04},{"t":171.52,"v":0.24},{"t":171.528,"v":-0.3},{"t":171.533,"v":-0.6},{"t":171.549,"v":-0.41},{"t":171.565,"v":-0.08},{"t":171.582,"v":0.09},{"t":171.606,"v":0.0},{"t":171.639,"v":0.07},{"t":171.672,"v":-0.06},{"t":171.704,"v":0.03},{"t":171.72,"v":-0.13},{"t":171.737,"v":-0.26},{"t":171.753,"v":-0.08},{"t":171.777,"v":-0.19},{"t":171.802,"v":-0.26},{"t":171.834,"v":-0.08},{"t":171.867,"v":0.03},{"t":171.899,"v":0.09},{"t":171.932,"v":0.03},{"t":171.965,"v":-0.02},{"t":171.997,"v":0.0},{"t":172.03,"v":0.05},{"t":172.062,"v":0.03},{"t":172.095,"v":0.09},{"t":172.127,"v":0.13},{"t":172.16,"v":0.03},{"t":172.193,"v":-0.02},{"t":172.225,"v":-0.1},{"t":172.242,"v":-0.26},{"t":172.258,"v":-0.08},{"t":172.29,"v":-0.02},{"t":172.323,"v":-0.08},{"t":172.356,"v":-0.13},{"t":172.388,"v":-0.28},{"t":172.404,"v":-0.19},{"t":172.437,"v":-0.08},{"t":172.469,"v":-0.13},{"t":172.494,"v":-0.19},{"t":172.5,"v":-0.17}],
"UC":[{"t":167.52,"v":-0.6},{"t":167.526,"v":-0.3},{"t":167.534,"v":-0.06},{"t":167.559,"v":-0.02},{"t":167.583,"v":0.03},{"t":167.607,"v":0.05},{"t":167.63,"v":-0.02},{"t":167.663,"v":-0.08},{"t":167.695,"v":-0.02},{"t":167.727,"v":0.0},{"t":167.76,"v":-0.08},{"t":167.776,"v":-0.1},{"t":167.792,"v":-0.02},{"t":167.824,"v":0.07},{"t":167.856,"v":0.09},{"t":167.888,"v":0.03},{"t":167.92,"v":0.05},{"t":167.953,"v":0.03},{"t":167.985,"v":-0.02},{"t":168.017,"v":-0.04},{"t":168.041,"v":-0.06},{"t":168.065,"v":0.0},{"t":168.097,"v":0.11},{"t":168.129,"v":0.13},{"t":168.161,"v":0.07},{"t":168.193,"v":0.0},{"t":168.226,"v":0.03},{"t":168.258,"v":0.07},{"t":168.29,"v":0.13},{"t":168.306,"v":0.22},{"t":168.322,"v":0.2},{"t":168.354,"v":0.13},{"t":168.387,"v":0.09},{"t":168.419,"v":0.07},{"t":168.451,"v":0.05},{"t":168.483,"v":0.0},{"t":168.515,"v":-0.02},{"t":168.52,"v":-0.55},{"t":168.525,"v":-0.1},{"t":168.539,"v":-0.02},{"t":168.563,"v":0.0},{"t":168.596,"v":0.07},{"t":168.612,"v":0.11},{"t":168.628,"v":0.05},{"t":168.644,"v":0.0},{"t":168.676,"v":-0.04},{"t":168.708,"v":0.03},{"t":168.74,"v":0.09},{"t":168.772,"v":0.16},{"t":168.797,"v":0.09},{"t":168.821,"v":0.0},{"t":168.845,"v":-0.1},{"t":168.869,"v":-0.04},{"t":168.901,"v":0.0},{"t":168.933,"v":0.05},{"t":168.965,"v":0.03},{"t":168.997,"v":0.05},{"t":169.03,"v":0.09},{"t":169.062,"v":0.05},{"t":169.094,"v":0.07},{"t":169.126,"v":0.05},{"t":169.158,"v":0.09},{"t":169.19,"v":0.16},{"t":169.214,"v":0.16},{"t":169.239,"v":0.05},{"t":169.271,"v":0.03},{"t":169.303,"v":0.09},{"t":169.335,"v":0.13},{"t":169.367,"v":0.09},{"t":169.399,"v":0.05},{"t":169.431,"v":0.03},{"t":169.464,"v":0.0},{"t":169.496,"v":-0.02},{"t":169.512,"v":-0.04},{"t":169.52,"v":0.5},{"t":169.522,"v":-0.6},{"t":169.526,"v":-0.3},{"t":169.544,"v":-0.08},{"t":169.568,"v":-0.17},{"t":169.584,"v":-0.06},{"t":169.608,"v":-0.02},{"t":169.641,"v":0.0},{"t":169.673,"v":0.03},{"t":169.705,"v":0.05},{"t":169.737,"v":0.03},{"t":169.769,"v":0.05},{"t":169.801,"v":0.03},{"t":169.833,"v":0.07},{"t":169.866,"v":0.07},{"t":169.898,"v":0.09},{"t":169.93,"v":0.16},{"t":169.962,"v":0.09},{"t":169.994,"v":0.07},{"t":170.027,"v":0.03},{"t":170.059,"v":0.07},{"t":170.092,"v":0.03},{"t":170.124,"v":0.07},{"t":170.157,"v":0.05},{"t":170.189,"v":0.07},{"t":170.222,"v":0.0},{"t":170.255,"v":0.03},{"t":170.287,"v":0.05},{"t":170.32,"v":0.07},{"t":170.352,"v":0.03},{"t":170.385,"v":0.05},{"t":170.417,"v":0.0},{"t":170.45,"v":-0.02},{"t":170.483,"v":-0.04},{"t":170.507,"v":-0.02},{"t":170.52,"v":-0.58},{"t":170.525,"v":-0.2},{"t":170.531,"v":-0.13},{"t":170.54,"v":-0.19},{"t":170.548,"v":0.29},{"t":170.564,"v":0.35},{"t":170.58,"v":0.2},{"t":170.597,"v":0.09},{"t":170.613,"v":0.03},{"t":170.645,"v":0.07},{"t":170.678,"v":0.03},{"t":170.711,"v":0.05},{"t":170.743,"v":-0.02},{"t":170.776,"v":0.03},{"t":170.808,"v":0.0},{"t":170.841,"v":0.05},{"t":170.873,"v":0.11},{"t":170.906,"v":-0.1},{"t":170.939,"v":-0.02},{"t":170.971,"v":0.05},{"t":171.004,"v":0.09},{"t":171.036,"v":0.13},{"t":171.069,"v":0.2},{"t":171.101,"v":0.11},{"t":171.134,"v":0.07},{"t":171.167,"v":0.05},{"t":171.199,"v":0.03},{"t":171.232,"v":-0.02},{"t":171.264,"v":0.07},{"t":171.297,"v":0.11},{"t":171.329,"v":0.05},{"t":171.362,"v":0.03},{"t":171.395,"v":0.0},{"t":171.427,"v":0.05},{"t":171.46,"v":0.09},{"t":171.484,"v":0.05},{"t":171.5,"v":-0.06},{"t":171.52,"v":-0.1},{"t":171.533,"v":-0.1},{"t":171.557,"v":-0.02},{"t":171.59,"v":0.09},{"t":171.623,"v":0.03},{"t":171.655,"v":-0.02},{"t":171.688,"v":0.05},{"t":171.72,"v":0.13},{"t":171.753,"v":-0.02},{"t":171.785,"v":-0.04},{"t":171.818,"v":-0.02},{"t":171.851,"v":0.0},{"t":171.883,"v":0.03},{"t":171.916,"v":0.07},{"t":171.948,"v":0.05},{"t":171.981,"v":0.0},{"t":172.013,"v":0.03},{"t":172.046,"v":0.07},{"t":172.079,"v":0.09},{"t":172.111,"v":0.05},{"t":172.144,"v":0.0},{"t":172.176,"v":0.03},{"t":172.209,"v":0.07},{"t":172.242,"v":0.03},{"t":172.274,"v":0.07},{"t":172.307,"v":0.09},{"t":172.339,"v":0.11},{"t":172.372,"v":0.05},{"t":172.404,"v":0.0},{"t":172.437,"v":-0.02},{"t":172.469,"v":-0.06},{"t":172.5,"v":-0.08}]
},
"vconcat":[
{"width":1168,"height":184,
 "encoding":{"y":{"field":"v","type":"quantitative","scale":{"domain":[-0.6,0.6],"nice":false,"zero":false},
   "axis":{"title":"E (m)","values":[-0.6,-0.4,-0.2,0,0.2,0.4,0.6],"labelExpr":"(datum.value < 0 ? '-' : '') + (datum.value == 0 ? '0' : format(abs(datum.value), '.1f'))","labelFontSize":23,"titleFontSize":24,"titlePadding":12,"tickSize":-10,"labelPadding":16,"labelFlush":false,"labelOverlap":false,"grid":true,"domain":true,"labelOffset":{"expr":"datum.value*20"}}}},
 "resolve":{"axis":{"x":"independent"}},
 "layer":[
  {"data":{"name":"EB"},"mark":{"type":"line","clip":true,"strokeWidth":4,"strokeJoin":"round"},
   "encoding":{"x":{"field":"t","type":"quantitative","scale":{"domain":[167.52,172.5],"nice":false,"zero":false},"axis":{"orient":"top","values":[168.52,169.52,170.52,171.52],"grid":true,"labels":false,"ticks":true,"tickSize":-8,"domain":true,"title":null,"minExtent":0,"maxExtent":0}},
    "color":{"datum":"BDS-3","type":"nominal","scale":{"domain":["BDS-3","GPS","BDS-3 + GPS"],"range":["#0072BD","#D95319","#EDB120"]},
     "legend":{"orient":"top","direction":"horizontal","title":null,"gridAlign":"none","symbolType":"M-1,-0.21H1V0.21H-1Z","symbolSize":4600,"symbolStrokeWidth":0,"labelFontSize":23,"labelColor":"#1a1a1a","labelOffset":2,"columnPadding":8,"offset":-2,"padding":0,
      "encode":{"symbols":{"update":{"fill":{"scale":"color","field":"value"},"strokeWidth":{"value":0},"opacity":{"value":1}}}}}}}},
  {"data":{"name":"EG"},"mark":{"type":"line","clip":true,"strokeWidth":4,"strokeJoin":"round"},
   "encoding":{"x":{"field":"t","type":"quantitative","scale":{"domain":[167.52,172.5],"nice":false,"zero":false},"axis":{"orient":"bottom","values":[168.52,169.52,170.52,171.52],"grid":false,"labels":false,"ticks":true,"tickSize":-8,"domain":true,"title":null,"minExtent":0,"maxExtent":0}},
    "color":{"datum":"GPS","type":"nominal","scale":{"domain":["BDS-3","GPS","BDS-3 + GPS"],"range":["#0072BD","#D95319","#EDB120"]}}}},
  {"data":{"name":"EC"},"mark":{"type":"line","clip":true,"strokeWidth":4,"strokeJoin":"round"},
   "encoding":{"x":{"field":"t","type":"quantitative","scale":{"domain":[167.52,172.5],"nice":false,"zero":false},"axis":null},
    "color":{"datum":"BDS-3 + GPS","type":"nominal","scale":{"domain":["BDS-3","GPS","BDS-3 + GPS"],"range":["#0072BD","#D95319","#EDB120"]}}}}
 ]},
{"width":1168,"height":184,
 "encoding":{"y":{"field":"v","type":"quantitative","scale":{"domain":[-0.6,0.6],"nice":false,"zero":false},
   "axis":{"title":"N (m)","values":[-0.6,-0.4,-0.2,0,0.2,0.4,0.6],"labelExpr":"(datum.value < 0 ? '-' : '') + (datum.value == 0 ? '0' : format(abs(datum.value), '.1f'))","labelFontSize":23,"titleFontSize":24,"titlePadding":12,"tickSize":-10,"labelPadding":16,"labelFlush":false,"labelOverlap":false,"grid":true,"domain":true,"labelOffset":{"expr":"datum.value*20"}}}},
 "resolve":{"axis":{"x":"independent"}},
 "layer":[
  {"data":{"name":"NB"},"mark":{"type":"line","clip":true,"strokeWidth":4,"strokeJoin":"round"},
   "encoding":{"x":{"field":"t","type":"quantitative","scale":{"domain":[167.52,172.5],"nice":false,"zero":false},"axis":{"orient":"top","values":[168.52,169.52,170.52,171.52],"grid":true,"labels":false,"ticks":true,"tickSize":-8,"domain":true,"title":null,"minExtent":0,"maxExtent":0}},
    "color":{"datum":"BDS-3","type":"nominal","scale":{"domain":["BDS-3","GPS","BDS-3 + GPS"],"range":["#0072BD","#D95319","#EDB120"]}}}},
  {"data":{"name":"NG"},"mark":{"type":"line","clip":true,"strokeWidth":4,"strokeJoin":"round"},
   "encoding":{"x":{"field":"t","type":"quantitative","scale":{"domain":[167.52,172.5],"nice":false,"zero":false},"axis":{"orient":"bottom","values":[168.52,169.52,170.52,171.52],"grid":false,"labels":false,"ticks":true,"tickSize":-8,"domain":true,"title":null,"minExtent":0,"maxExtent":0}},
    "color":{"datum":"GPS","type":"nominal","scale":{"domain":["BDS-3","GPS","BDS-3 + GPS"],"range":["#0072BD","#D95319","#EDB120"]}}}},
  {"data":{"name":"NC"},"mark":{"type":"line","clip":true,"strokeWidth":4,"strokeJoin":"round"},
   "encoding":{"x":{"field":"t","type":"quantitative","scale":{"domain":[167.52,172.5],"nice":false,"zero":false},"axis":null},
    "color":{"datum":"BDS-3 + GPS","type":"nominal","scale":{"domain":["BDS-3","GPS","BDS-3 + GPS"],"range":["#0072BD","#D95319","#EDB120"]}}}}
 ]},
{"width":1168,"height":184,
 "encoding":{"y":{"field":"v","type":"quantitative","scale":{"domain":[-0.6,0.6],"nice":false,"zero":false},
   "axis":{"title":"U (m)","values":[-0.6,-0.4,-0.2,0,0.2,0.4,0.6],"labelExpr":"(datum.value < 0 ? '-' : '') + (datum.value == 0 ? '0' : format(abs(datum.value), '.1f'))","labelFontSize":23,"titleFontSize":24,"titlePadding":12,"tickSize":-10,"labelPadding":16,"labelFlush":false,"labelOverlap":false,"grid":true,"domain":true,"labelOffset":{"expr":"datum.value*20"}}}},
 "resolve":{"axis":{"x":"independent"}},
 "layer":[
  {"data":{"name":"UB"},"mark":{"type":"line","clip":true,"strokeWidth":4,"strokeJoin":"round"},
   "encoding":{"x":{"field":"t","type":"quantitative","scale":{"domain":[167.52,172.5],"nice":false,"zero":false},"axis":{"orient":"top","values":[168.52,169.52,170.52,171.52],"grid":true,"labels":false,"ticks":true,"tickSize":-8,"domain":true,"title":null,"minExtent":0,"maxExtent":0}},
    "color":{"datum":"BDS-3","type":"nominal","scale":{"domain":["BDS-3","GPS","BDS-3 + GPS"],"range":["#0072BD","#D95319","#EDB120"]}}}},
  {"data":{"name":"UG"},"mark":{"type":"line","clip":true,"strokeWidth":4,"strokeJoin":"round"},
   "encoding":{"x":{"field":"t","type":"quantitative","scale":{"domain":[167.52,172.5],"nice":false,"zero":false},"axis":{"orient":"bottom","values":[168,169,170,171,172],"format":"d","grid":false,"ticks":false,"labels":true,"labelFontSize":24,"labelPadding":14,"labelFlush":false,"domain":true,"title":"DOY, 2022","titleFontSize":25,"titlePadding":9}},
    "color":{"datum":"GPS","type":"nominal","scale":{"domain":["BDS-3","GPS","BDS-3 + GPS"],"range":["#0072BD","#D95319","#EDB120"]}}}},
  {"data":{"name":"UC"},"mark":{"type":"line","clip":true,"strokeWidth":4,"strokeJoin":"round"},
   "encoding":{"x":{"field":"t","type":"quantitative","scale":{"domain":[167.52,172.5],"nice":false,"zero":false},"axis":null},
    "color":{"datum":"BDS-3 + GPS","type":"nominal","scale":{"domain":["BDS-3","GPS","BDS-3 + GPS"],"range":["#0072BD","#D95319","#EDB120"]}}}}
 ]}
]
}
